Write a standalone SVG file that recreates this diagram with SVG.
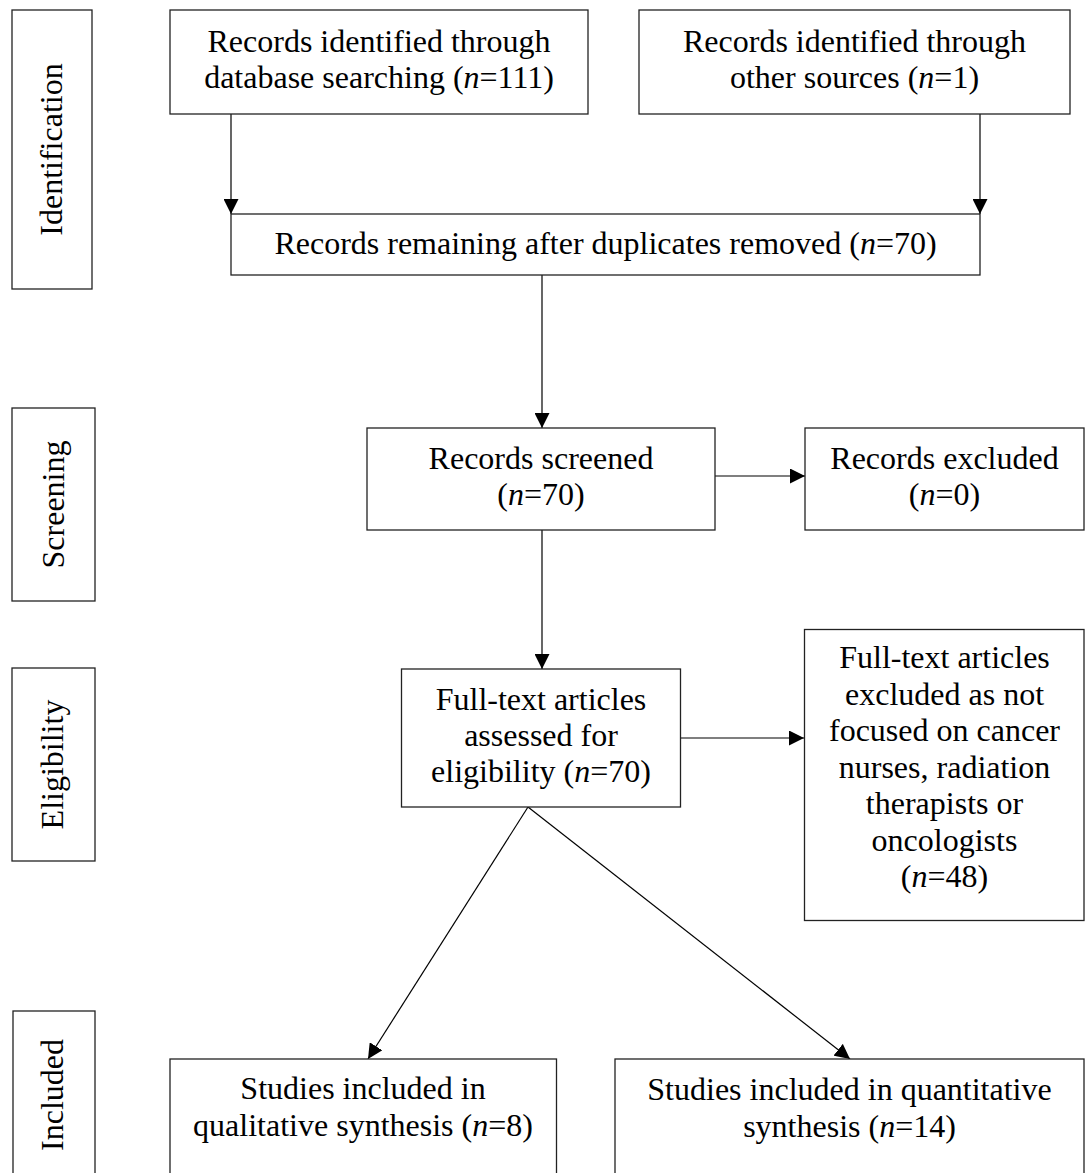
<svg xmlns="http://www.w3.org/2000/svg" width="1087" height="1173" viewBox="0 0 1087 1173">
  <style>
    .box { fill: #ffffff; stroke: #222222; stroke-width: 1.3; }
    .lbl { font-family: "Liberation Serif", "Times New Roman", serif; font-size: 32px; fill: #000000; text-anchor: middle; }
    .it { font-style: italic; }
    .link { stroke: #000000; stroke-width: 1.2; fill: none; }
  </style>
  <defs>
    <marker id="arrow" markerUnits="userSpaceOnUse" markerWidth="15" markerHeight="15" refX="15" refY="7.5" orient="auto">
      <path d="M0,0 L15,7.5 L0,15 Z" fill="#000000"/>
    </marker>
  </defs>
  <rect width="1087" height="1173" fill="#ffffff"/>

  <!-- phase labels -->
  <g id="phase-identification">
    <rect class="box" x="12" y="10" width="80" height="279"/>
    <text class="lbl" transform="translate(62,149.5) rotate(-90)">Identification</text>
  </g>
  <g id="phase-screening">
    <rect class="box" x="12" y="408" width="83" height="193"/>
    <text class="lbl" transform="translate(64,504.5) rotate(-90)">Screening</text>
  </g>
  <g id="phase-eligibility">
    <rect class="box" x="12" y="668" width="83" height="193"/>
    <text class="lbl" transform="translate(63,764.5) rotate(-90)">Eligibility</text>
  </g>
  <g id="phase-included">
    <rect class="box" x="13" y="1011" width="82" height="170"/>
    <text class="lbl" transform="translate(62.5,1095) rotate(-90)">Included</text>
  </g>

  <!-- connectors -->
  <g id="connectors">
    <line class="link" x1="231" y1="114" x2="231" y2="214" marker-end="url(#arrow)"/>
    <line class="link" x1="980" y1="114" x2="980" y2="214" marker-end="url(#arrow)"/>
    <line class="link" x1="542" y1="275" x2="542" y2="428" marker-end="url(#arrow)"/>
    <line class="link" x1="715" y1="476" x2="805" y2="476" marker-end="url(#arrow)"/>
    <line class="link" x1="542" y1="530" x2="542" y2="669" marker-end="url(#arrow)"/>
    <line class="link" x1="681" y1="738" x2="804" y2="738" marker-end="url(#arrow)"/>
    <line class="link" x1="528" y1="807" x2="368" y2="1059" marker-end="url(#arrow)"/>
    <line class="link" x1="528" y1="807" x2="850" y2="1059" marker-end="url(#arrow)"/>
  </g>

  <!-- flow boxes -->
  <g id="db-search">
    <rect class="box" x="170" y="10" width="418" height="104"/>
    <text class="lbl" x="379" y="51.5">Records identified through</text>
    <text class="lbl" x="379" y="88">database searching (<tspan class="it">n</tspan>=111)</text>
  </g>
  <g id="other-sources">
    <rect class="box" x="639" y="10" width="431" height="104"/>
    <text class="lbl" x="854.5" y="51.5">Records identified through</text>
    <text class="lbl" x="854.5" y="88">other sources (<tspan class="it">n</tspan>=1)</text>
  </g>
  <g id="deduplicated">
    <rect class="box" x="231" y="214" width="749" height="61"/>
    <text class="lbl" x="605.5" y="254">Records remaining after duplicates removed (<tspan class="it">n</tspan>=70)</text>
  </g>
  <g id="screened">
    <rect class="box" x="367" y="428" width="348" height="102"/>
    <text class="lbl" x="541" y="468.5">Records screened</text>
    <text class="lbl" x="541" y="505">(<tspan class="it">n</tspan>=70)</text>
  </g>
  <g id="excluded">
    <rect class="box" x="805" y="428" width="279" height="102"/>
    <text class="lbl" x="944.5" y="468.5">Records excluded</text>
    <text class="lbl" x="944.5" y="505">(<tspan class="it">n</tspan>=0)</text>
  </g>
  <g id="full-text">
    <rect class="box" x="401.5" y="669" width="279" height="138"/>
    <text class="lbl" x="541" y="709.5">Full-text articles</text>
    <text class="lbl" x="541" y="745.5">assessed for</text>
    <text class="lbl" x="541" y="781.5">eligibility (<tspan class="it">n</tspan>=70)</text>
  </g>
  <g id="full-text-excluded">
    <rect class="box" x="804.5" y="629.5" width="279.5" height="291"/>
    <text class="lbl" x="944.5" y="668.3">Full-text articles</text>
    <text class="lbl" x="944.5" y="704.8">excluded as not</text>
    <text class="lbl" x="944.5" y="741.3">focused on cancer</text>
    <text class="lbl" x="944.5" y="777.8">nurses, radiation</text>
    <text class="lbl" x="944.5" y="814.3">therapists or</text>
    <text class="lbl" x="944.5" y="850.8">oncologists</text>
    <text class="lbl" x="944.5" y="887.3">(<tspan class="it">n</tspan>=48)</text>
  </g>
  <g id="qualitative">
    <rect class="box" x="170" y="1059" width="386.5" height="130"/>
    <text class="lbl" x="363" y="1099">Studies included in</text>
    <text class="lbl" x="363" y="1136">qualitative synthesis (<tspan class="it">n</tspan>=8)</text>
  </g>
  <g id="quantitative">
    <rect class="box" x="615" y="1059" width="469" height="130"/>
    <text class="lbl" x="849.5" y="1100">Studies included in quantitative</text>
    <text class="lbl" x="849.5" y="1136.5">synthesis (<tspan class="it">n</tspan>=14)</text>
  </g>
</svg>
